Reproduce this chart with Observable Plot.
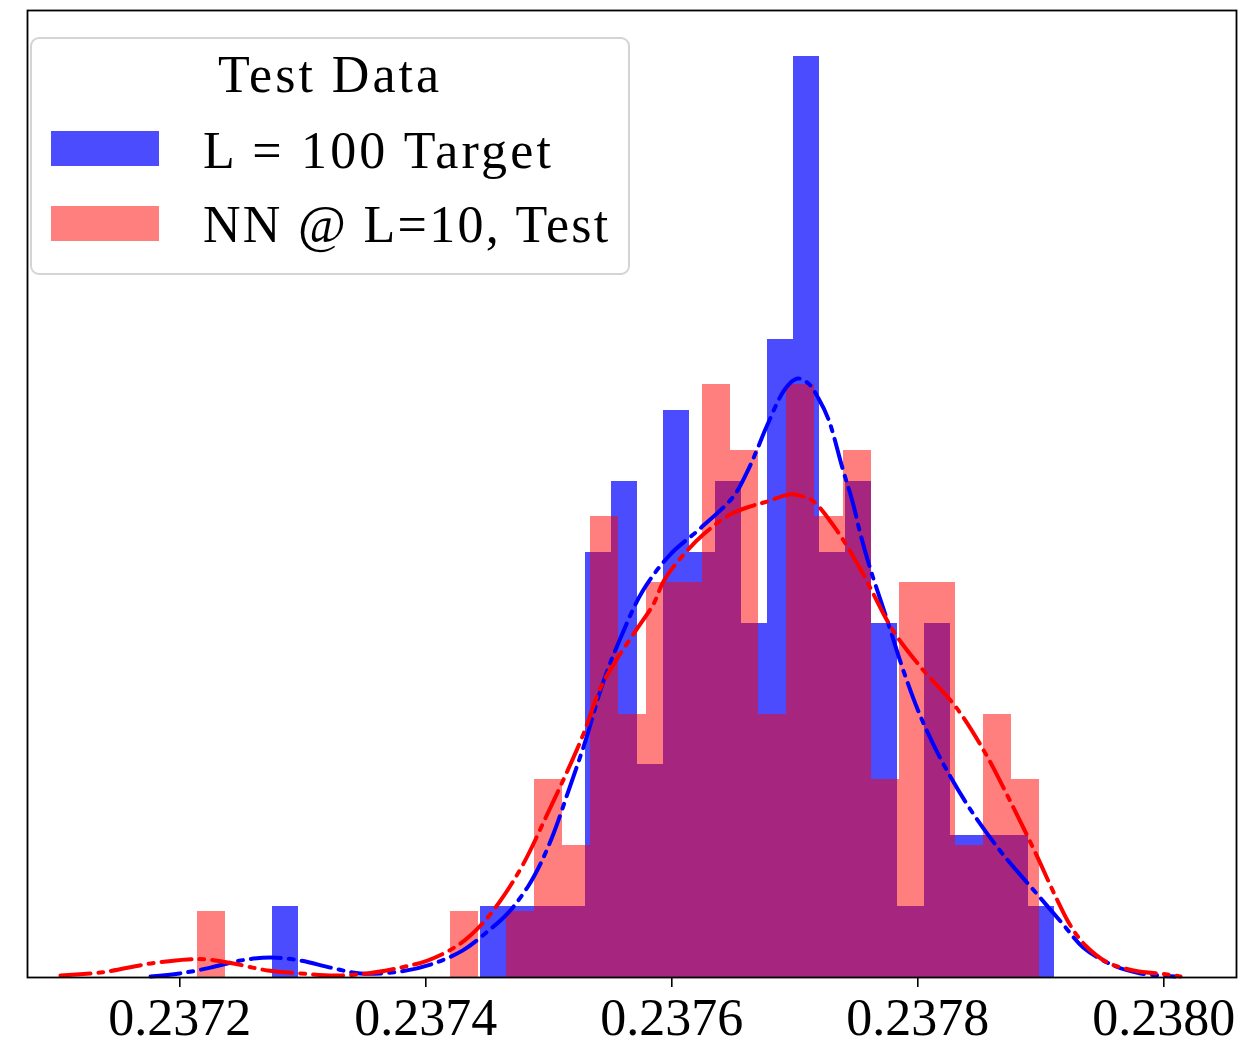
<!DOCTYPE html>
<html>
<head>
<meta charset="utf-8">
<script src="https://cdn.jsdelivr.net/npm/d3@7"></script>
<script src="https://cdn.jsdelivr.net/npm/@observablehq/plot@0.6"></script>
<style>
  html, body { margin: 0; padding: 0; background: #fff; }
  #wrap { position: relative; width: 1244px; height: 1045px; font-family: "Liberation Serif", "DejaVu Serif", serif; }
  #legend { position: absolute; left: 30px; top: 37px; width: 600px; height: 238px;
            border: 2px solid #d4d4d4; border-radius: 9px; background: rgba(255,255,255,0.8); box-sizing: border-box; }
  #legend .t { position: absolute; font-size: 52px; line-height: 52px; white-space: nowrap; color: #000; }
  #legend .sw { position: absolute; left: 19px; width: 108px; height: 35px; }
</style>
</head>
<body>
<div id="wrap"></div>
<script>
// x-axis ticks
const tickValues = [0.2372, 0.2374, 0.2376, 0.2378, 0.2380];

// L = 100 target: sample range and counts in 30 equal bins (N = 100)
const targetRange = [0.2372751, 0.2379111];
const targetCounts = [1,0,0,0,0,0,0,0,1,1,1,1,6,7,3,8,6,7,5,9,13,6,7,5,1,5,2,2,2,1];

// NN @ L=10 test: sample range and counts in 30 equal bins (N = 100)
const nnRange = [0.2372146, 0.2378989];
const nnCounts = [1,0,0,0,0,0,0,0,0,1,0,1,3,2,7,4,6,6,9,8,4,9,7,8,3,6,6,2,4,3];

// kernel density estimate of the target sample
const targetKdeX = [0.2371762,0.2372,0.237225,0.2372493,0.2372737,0.2372981,0.2373225,0.2373469,0.2373794,0.2374038,
  0.2374298,0.237451,0.2374664,0.2374835,0.2374933,0.2375038,0.237516,0.2375298,0.2375445,0.2375583,0.2375762,
  0.2375989,0.2376233,0.2376502,0.2376615,0.2376697,0.2376778,0.2376924,0.2377022,0.2377111,0.2377193,0.2377274,
  0.2377388,0.2377469,0.2377534,0.2377615,0.2377754,0.2377884,0.2378038,0.2378225,0.2378445,0.2378689,0.2378973,
  0.2379176,0.2379347,0.2379591,0.2379811,0.2380095];
const targetKdeY = [7,27,66,113,133,113,66,27,40,86,
  179,312,425,611,758,957,1243,1575,1974,2260,2572,
  2818,2991,3204,3370,3522,3682,3922,3988,3955,3855,3716,
  3390,3170,2951,2718,2373,2041,1708,1396,1097,824,552,
  359,199,80,27,7];

// kernel density estimate of the NN test sample
const nnKdeX = [0.237103,0.2371355,0.2371762,0.2372063,0.2372225,0.2372437,0.2372713,0.2372981,0.237325,0.2373526,
  0.2373794,0.2374014,0.2374258,0.2374445,0.2374607,0.2374794,0.2374989,0.2375152,0.2375282,0.237542,0.2375559,
  0.2375721,0.2375851,0.2375933,0.2376071,0.2376258,0.2376477,0.237664,0.2376778,0.2376965,0.2377063,0.2377152,
  0.2377347,0.2377534,0.2377615,0.2377802,0.2378030,0.2378315,0.2378543,0.2378738,
  0.2378941,0.2379136,0.2379241,0.2379363,0.2379542,0.2379754,0.238003,0.2380136];
const nnKdeY = [13,33,93,120,120,93,47,27,13,27,
  66,113,213,346,512,758,1090,1376,1622,1928,2127,
  2326,2486,2639,2792,2951,3084,3137,3170,3217,3204,3170,
  2971,2718,2592,2306,2060,1795,1502,1196,
  857,512,346,213,100,47,20,7];

// turn a range + counts into density-normalised histogram bins
function densityBins(range, counts) {
  const n = counts.length, total = d3.sum(counts);
  const w = (range[1] - range[0]) / n;
  return counts.map((c, i) => ({
    x1: range[0] + i * w,
    x2: range[0] + (i + 1) * w,
    y: c / (total * w)
  }));
}

const targetBins = densityBins(targetRange, targetCounts);
const nnBins = densityBins(nnRange, nnCounts);
const targetKde = targetKdeX.map((x, i) => ({x, y: targetKdeY[i]}));
const nnKde = nnKdeX.map((x, i) => ({x, y: nnKdeY[i]}));

const yMax = d3.max([...targetBins, ...nnBins], d => d.y) * 1.05;

// dash-dot pattern
const dash = "30,8,5,8";

const chart = Plot.plot({
  width: 1244,
  height: 1045,
  marginLeft: 27,
  marginRight: 8,
  marginTop: 10,
  marginBottom: 68,
  style: {fontFamily: "'Liberation Serif', 'DejaVu Serif', serif", background: "#fff", color: "#000"},
  x: {domain: [0.23707618, 0.23805911]},
  y: {domain: [0, yMax], axis: null},
  marks: [
    Plot.rectY(targetBins.filter(d => d.y > 0), {x1: "x1", x2: "x2", y: "y", fill: "#0000ff", fillOpacity: 0.7, shapeRendering: "crispEdges"}),
    Plot.rectY(nnBins.filter(d => d.y > 0), {x1: "x1", x2: "x2", y: "y", fill: "#ff0000", fillOpacity: 0.5, shapeRendering: "crispEdges"}),
    Plot.line(targetKde, {x: "x", y: "y", stroke: "#0000ff", strokeWidth: 4, strokeDasharray: dash, curve: "catmull-rom"}),
    Plot.line(nnKde, {x: "x", y: "y", stroke: "#ff0000", strokeWidth: 4, strokeDasharray: dash, curve: "catmull-rom"}),
    Plot.frame({stroke: "#000", strokeWidth: 1.8}),
    Plot.axisX({ticks: tickValues, tickFormat: d3.format(".4f"), tickSize: 10, tickPadding: 11,
                fontSize: 52, stroke: "#000", strokeWidth: 1.6, label: null})
  ]
});

const wrap = document.getElementById("wrap");
wrap.appendChild(chart);

// legend box inside the axes
const legend = document.createElement("div");
legend.id = "legend";
legend.innerHTML = `
  <div class="t" style="left:0;width:100%;text-align:center;top:10px;letter-spacing:3px">Test Data</div>
  <div class="sw" style="top:92px;background:rgba(0,0,255,0.7)"></div>
  <div class="t" style="left:171px;top:86px;letter-spacing:3.2px">L = 100 Target</div>
  <div class="sw" style="top:167px;background:rgba(255,0,0,0.5)"></div>
  <div class="t" style="left:171px;top:160px;letter-spacing:2.3px">NN @ L=10, Test</div>
`;
wrap.appendChild(legend);
</script>
</body>
</html>
